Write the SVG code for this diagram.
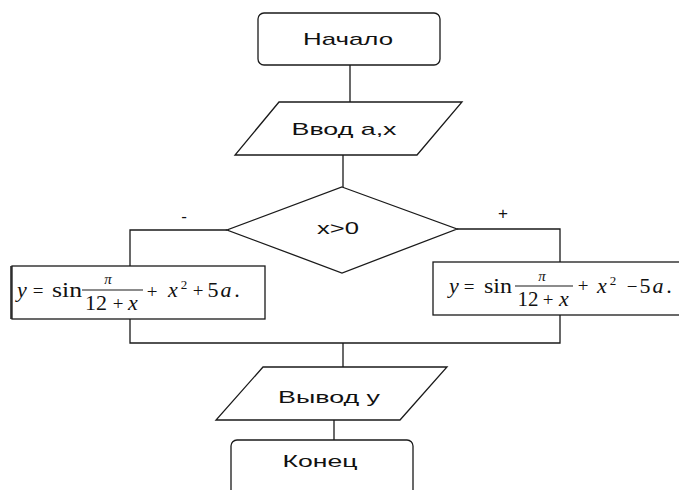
<svg xmlns="http://www.w3.org/2000/svg" width="679" height="490" viewBox="0 0 679 490">
  <style>
    .shape { fill: #ffffff; stroke: #1a1a1a; stroke-width: 1.3; }
    .link { fill: none; stroke: #1a1a1a; stroke-width: 1.3; }
    .lbl { font-family: "Liberation Sans", Arial, sans-serif; font-size: 17px; fill: #111; text-anchor: middle; }
    .m { font-family: "Liberation Serif", "Times New Roman", serif; font-size: 22px; fill: #111; text-anchor: middle; }
    .mi { font-style: italic; }
    .op { font-size: 19px; }
    .sm { font-size: 15px; }
    .sup { font-size: 13px; }
  </style>
  <rect width="679" height="490" fill="#ffffff"/>

  <!-- connectors -->
  <g id="connectors">
    <path class="link" d="M350 65 V102"/>
    <path class="link" d="M343 155 V187"/>
    <path class="link" d="M227 230 H130 V266"/>
    <path class="link" d="M457 229 H560 V262"/>
    <path class="link" d="M130 319 V343 H560 V315"/>
    <path class="link" d="M343 343 V367"/>
    <path class="link" d="M334 420 V440"/>
    <text class="lbl" x="184" y="222" font-size="16">-</text>
    <text class="lbl" x="503" y="219" font-size="16">+</text>
  </g>

  <!-- start -->
  <g id="start">
    <rect class="shape" x="258" y="13" width="182" height="52" rx="6"/>
    <text class="lbl" x="348" y="45" textLength="90" lengthAdjust="spacingAndGlyphs">Начало</text>
  </g>

  <!-- input -->
  <g id="input">
    <polygon class="shape" points="279,102 462,102 417,155 235,155"/>
    <text class="lbl" x="344" y="135" textLength="105" lengthAdjust="spacingAndGlyphs">Ввод а,х</text>
  </g>

  <!-- decision -->
  <g id="decision">
    <polygon class="shape" points="342,187 457,229 342,273 227,230"/>
    <text class="lbl" x="338" y="234" textLength="42" lengthAdjust="spacingAndGlyphs">x&gt;0</text>
  </g>

  <!-- negative branch: y = sin(pi/(12+x)) + x^2 + 5a -->
  <g id="calc-neg">
    <rect class="shape" x="12" y="266" width="253" height="53"/>
    <line x1="11" y1="266" x2="11" y2="319" stroke="#1a1a1a" stroke-width="1.5"/>
    <text class="m mi" x="22" y="297">y</text>
    <text class="m op" x="38" y="297">=</text>
    <text class="m" x="67" y="297" textLength="30" lengthAdjust="spacingAndGlyphs">sin</text>
    <line x1="82" y1="290" x2="143" y2="290" stroke="#1a1a1a" stroke-width="1.1"/>
    <text class="m mi sm" x="108" y="284">π</text>
    <text class="m" x="96" y="310" textLength="22" lengthAdjust="spacingAndGlyphs">12</text>
    <text class="m op" x="118" y="310">+</text>
    <text class="m mi" x="133" y="310">x</text>
    <text class="m op" x="152" y="298">+</text>
    <text class="m mi" x="173" y="297">x</text>
    <text class="m sup" x="184" y="289">2</text>
    <text class="m op" x="198" y="297">+</text>
    <text class="m" x="213" y="297">5</text>
    <text class="m mi" x="226" y="297">a</text>
    <text class="m" x="237" y="297">.</text>
  </g>

  <!-- positive branch: y = sin(pi/(12+x)) + x^2 - 5a -->
  <g id="calc-pos">
    <rect class="shape" x="433" y="262" width="252" height="53"/>
    <text class="m mi" x="454" y="293">y</text>
    <text class="m op" x="469" y="293">=</text>
    <text class="m" x="498" y="293" textLength="28" lengthAdjust="spacingAndGlyphs">sin</text>
    <line x1="515" y1="286" x2="573" y2="286" stroke="#1a1a1a" stroke-width="1.1"/>
    <text class="m mi sm" x="542" y="281">π</text>
    <text class="m" x="528" y="306" textLength="21" lengthAdjust="spacingAndGlyphs">12</text>
    <text class="m op" x="548" y="306">+</text>
    <text class="m mi" x="564" y="306">x</text>
    <text class="m op" x="583" y="292">+</text>
    <text class="m mi" x="602" y="293">x</text>
    <text class="m sup" x="613" y="285">2</text>
    <text class="m op" x="632" y="293">−</text>
    <text class="m" x="645" y="293">5</text>
    <text class="m mi" x="658" y="293">a</text>
    <text class="m" x="669" y="293">.</text>
  </g>

  <!-- output -->
  <g id="output">
    <polygon class="shape" points="263,367 447,367 400,420 216,420"/>
    <text class="lbl" x="329" y="403" textLength="102" lengthAdjust="spacingAndGlyphs">Вывод у</text>
  </g>

  <!-- end -->
  <g id="end">
    <rect class="shape" x="231" y="440" width="182" height="70" rx="6"/>
    <text class="lbl" x="320" y="467" textLength="75" lengthAdjust="spacingAndGlyphs">Конец</text>
  </g>
</svg>
